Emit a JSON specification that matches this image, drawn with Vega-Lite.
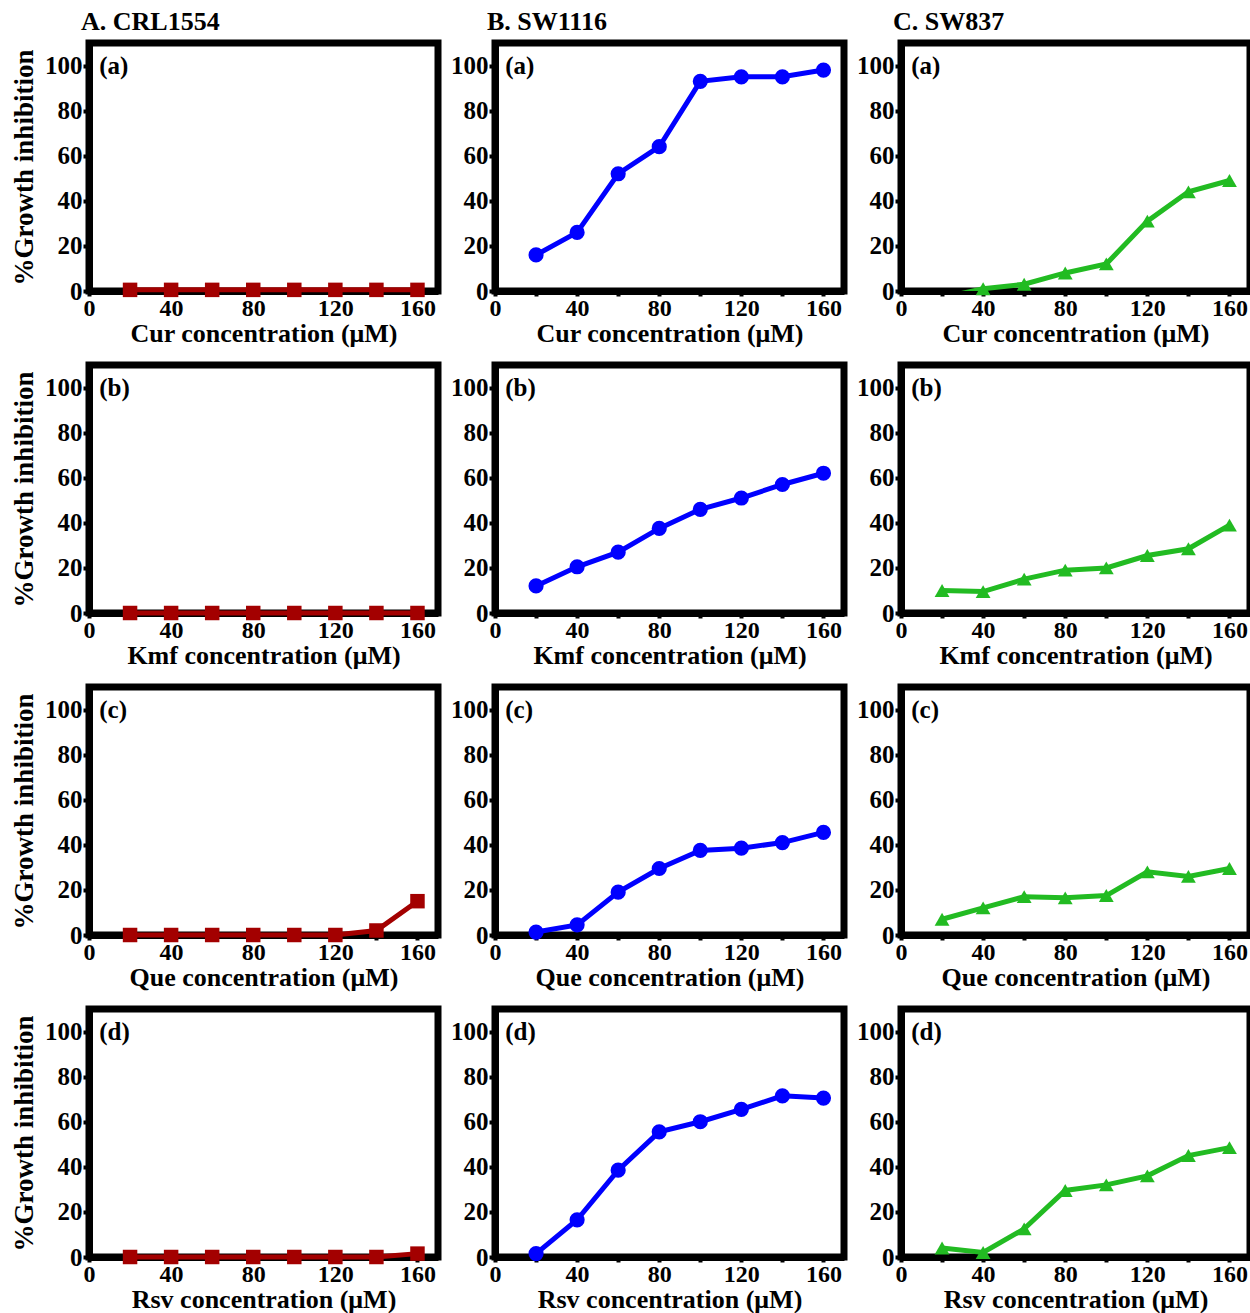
{
  "$schema": "https://vega.github.io/schema/vega-lite/v6.json",
  "background": "white",
  "padding": {"left": 6, "top": 5, "right": 2, "bottom": 0},
  "config": {
    "font": "Liberation Serif",
    "view": {"stroke": "black", "strokeWidth": 7},
    "axis": {
      "grid": false,
      "domainColor": "black",
      "domainWidth": 7,
      "tickColor": "black",
      "tickWidth": 4,
      "labelFont": "Liberation Serif",
      "labelFontWeight": "bold",
      "labelColor": "black",
      "titleFont": "Liberation Serif",
      "titleFontWeight": "bold",
      "titleColor": "black"
    },
    "axisX": {"tickSize": 5, "labelFontSize": 24, "labelPadding": 0, "titlePadding": 0, "labelFlush": false, "titleFontSize": 26},
    "axisY": {"tickSize": 6, "labelFontSize": 25, "labelPadding": 1, "titlePadding": 6, "titleFontSize": 27},
    "title": {"font": "Liberation Serif", "fontWeight": "bold", "fontSize": 26, "color": "black", "anchor": "start", "frame": "group", "offset": 8, "dx": -8},
    "text": {"font": "Liberation Serif", "fontWeight": "bold", "fontSize": 25, "color": "black"}
  },
  "datasets": {
    "growth": [
      {"cell": "CRL1554", "drug": "Cur", "conc": 20, "inhib": 0.5},
      {"cell": "CRL1554", "drug": "Cur", "conc": 40, "inhib": 0.5},
      {"cell": "CRL1554", "drug": "Cur", "conc": 60, "inhib": 0.5},
      {"cell": "CRL1554", "drug": "Cur", "conc": 80, "inhib": 0.5},
      {"cell": "CRL1554", "drug": "Cur", "conc": 100, "inhib": 0.5},
      {"cell": "CRL1554", "drug": "Cur", "conc": 120, "inhib": 0.5},
      {"cell": "CRL1554", "drug": "Cur", "conc": 140, "inhib": 0.5},
      {"cell": "CRL1554", "drug": "Cur", "conc": 160, "inhib": 0.5},
      {"cell": "CRL1554", "drug": "Kmf", "conc": 20, "inhib": 0},
      {"cell": "CRL1554", "drug": "Kmf", "conc": 40, "inhib": 0},
      {"cell": "CRL1554", "drug": "Kmf", "conc": 60, "inhib": 0},
      {"cell": "CRL1554", "drug": "Kmf", "conc": 80, "inhib": 0},
      {"cell": "CRL1554", "drug": "Kmf", "conc": 100, "inhib": 0},
      {"cell": "CRL1554", "drug": "Kmf", "conc": 120, "inhib": 0},
      {"cell": "CRL1554", "drug": "Kmf", "conc": 140, "inhib": 0},
      {"cell": "CRL1554", "drug": "Kmf", "conc": 160, "inhib": 0},
      {"cell": "CRL1554", "drug": "Que", "conc": 20, "inhib": 0},
      {"cell": "CRL1554", "drug": "Que", "conc": 40, "inhib": 0},
      {"cell": "CRL1554", "drug": "Que", "conc": 60, "inhib": 0},
      {"cell": "CRL1554", "drug": "Que", "conc": 80, "inhib": 0},
      {"cell": "CRL1554", "drug": "Que", "conc": 100, "inhib": 0},
      {"cell": "CRL1554", "drug": "Que", "conc": 120, "inhib": 0},
      {"cell": "CRL1554", "drug": "Que", "conc": 140, "inhib": 2},
      {"cell": "CRL1554", "drug": "Que", "conc": 160, "inhib": 15},
      {"cell": "CRL1554", "drug": "Rsv", "conc": 20, "inhib": 0},
      {"cell": "CRL1554", "drug": "Rsv", "conc": 40, "inhib": 0},
      {"cell": "CRL1554", "drug": "Rsv", "conc": 60, "inhib": 0},
      {"cell": "CRL1554", "drug": "Rsv", "conc": 80, "inhib": 0},
      {"cell": "CRL1554", "drug": "Rsv", "conc": 100, "inhib": 0},
      {"cell": "CRL1554", "drug": "Rsv", "conc": 120, "inhib": 0},
      {"cell": "CRL1554", "drug": "Rsv", "conc": 140, "inhib": 0},
      {"cell": "CRL1554", "drug": "Rsv", "conc": 160, "inhib": 1.5},
      {"cell": "SW1116", "drug": "Cur", "conc": 20, "inhib": 16},
      {"cell": "SW1116", "drug": "Cur", "conc": 40, "inhib": 26},
      {"cell": "SW1116", "drug": "Cur", "conc": 60, "inhib": 52},
      {"cell": "SW1116", "drug": "Cur", "conc": 80, "inhib": 64},
      {"cell": "SW1116", "drug": "Cur", "conc": 100, "inhib": 93},
      {"cell": "SW1116", "drug": "Cur", "conc": 120, "inhib": 95},
      {"cell": "SW1116", "drug": "Cur", "conc": 140, "inhib": 95},
      {"cell": "SW1116", "drug": "Cur", "conc": 160, "inhib": 98},
      {"cell": "SW1116", "drug": "Kmf", "conc": 20, "inhib": 12},
      {"cell": "SW1116", "drug": "Kmf", "conc": 40, "inhib": 20.5},
      {"cell": "SW1116", "drug": "Kmf", "conc": 60, "inhib": 27},
      {"cell": "SW1116", "drug": "Kmf", "conc": 80, "inhib": 37.5},
      {"cell": "SW1116", "drug": "Kmf", "conc": 100, "inhib": 46},
      {"cell": "SW1116", "drug": "Kmf", "conc": 120, "inhib": 51},
      {"cell": "SW1116", "drug": "Kmf", "conc": 140, "inhib": 57},
      {"cell": "SW1116", "drug": "Kmf", "conc": 160, "inhib": 62},
      {"cell": "SW1116", "drug": "Que", "conc": 20, "inhib": 1.3},
      {"cell": "SW1116", "drug": "Que", "conc": 40, "inhib": 4.5},
      {"cell": "SW1116", "drug": "Que", "conc": 60, "inhib": 19},
      {"cell": "SW1116", "drug": "Que", "conc": 80, "inhib": 29.5},
      {"cell": "SW1116", "drug": "Que", "conc": 100, "inhib": 37.5},
      {"cell": "SW1116", "drug": "Que", "conc": 120, "inhib": 38.5},
      {"cell": "SW1116", "drug": "Que", "conc": 140, "inhib": 41},
      {"cell": "SW1116", "drug": "Que", "conc": 160, "inhib": 45.5},
      {"cell": "SW1116", "drug": "Rsv", "conc": 20, "inhib": 1.5},
      {"cell": "SW1116", "drug": "Rsv", "conc": 40, "inhib": 16.5},
      {"cell": "SW1116", "drug": "Rsv", "conc": 60, "inhib": 38.5},
      {"cell": "SW1116", "drug": "Rsv", "conc": 80, "inhib": 55.5},
      {"cell": "SW1116", "drug": "Rsv", "conc": 100, "inhib": 60},
      {"cell": "SW1116", "drug": "Rsv", "conc": 120, "inhib": 65.5},
      {"cell": "SW1116", "drug": "Rsv", "conc": 140, "inhib": 71.5},
      {"cell": "SW1116", "drug": "Rsv", "conc": 160, "inhib": 70.5},
      {"cell": "SW837", "drug": "Cur", "conc": 20, "inhib": -3},
      {"cell": "SW837", "drug": "Cur", "conc": 40, "inhib": 1},
      {"cell": "SW837", "drug": "Cur", "conc": 60, "inhib": 3},
      {"cell": "SW837", "drug": "Cur", "conc": 80, "inhib": 8},
      {"cell": "SW837", "drug": "Cur", "conc": 100, "inhib": 12},
      {"cell": "SW837", "drug": "Cur", "conc": 120, "inhib": 31},
      {"cell": "SW837", "drug": "Cur", "conc": 140, "inhib": 44},
      {"cell": "SW837", "drug": "Cur", "conc": 160, "inhib": 49},
      {"cell": "SW837", "drug": "Kmf", "conc": 20, "inhib": 10},
      {"cell": "SW837", "drug": "Kmf", "conc": 40, "inhib": 9.5},
      {"cell": "SW837", "drug": "Kmf", "conc": 60, "inhib": 15},
      {"cell": "SW837", "drug": "Kmf", "conc": 80, "inhib": 19},
      {"cell": "SW837", "drug": "Kmf", "conc": 100, "inhib": 20},
      {"cell": "SW837", "drug": "Kmf", "conc": 120, "inhib": 25.5},
      {"cell": "SW837", "drug": "Kmf", "conc": 140, "inhib": 28.5},
      {"cell": "SW837", "drug": "Kmf", "conc": 160, "inhib": 39},
      {"cell": "SW837", "drug": "Que", "conc": 20, "inhib": 7},
      {"cell": "SW837", "drug": "Que", "conc": 40, "inhib": 12},
      {"cell": "SW837", "drug": "Que", "conc": 60, "inhib": 17},
      {"cell": "SW837", "drug": "Que", "conc": 80, "inhib": 16.5},
      {"cell": "SW837", "drug": "Que", "conc": 100, "inhib": 17.5},
      {"cell": "SW837", "drug": "Que", "conc": 120, "inhib": 28},
      {"cell": "SW837", "drug": "Que", "conc": 140, "inhib": 26},
      {"cell": "SW837", "drug": "Que", "conc": 160, "inhib": 29.5},
      {"cell": "SW837", "drug": "Rsv", "conc": 20, "inhib": 4},
      {"cell": "SW837", "drug": "Rsv", "conc": 40, "inhib": 2},
      {"cell": "SW837", "drug": "Rsv", "conc": 60, "inhib": 12.5},
      {"cell": "SW837", "drug": "Rsv", "conc": 80, "inhib": 29.5},
      {"cell": "SW837", "drug": "Rsv", "conc": 100, "inhib": 32},
      {"cell": "SW837", "drug": "Rsv", "conc": 120, "inhib": 36},
      {"cell": "SW837", "drug": "Rsv", "conc": 140, "inhib": 45},
      {"cell": "SW837", "drug": "Rsv", "conc": 160, "inhib": 48.5}
    ]
  },
  "bounds": "flush",
  "columns": 3,
  "spacing": {"row": 74, "column": 57},
  "concat": [
    {
      "width": 349, "height": 248,
      "title": "A. CRL1554",
      "layer": [
        {
          "data": {"name": "growth"},
          "transform": [{"filter": "datum.cell == 'CRL1554' && datum.drug == 'Cur'"}],
          "encoding": {
            "x": {"field": "conc", "type": "quantitative", "scale": {"domain": [0, 170], "nice": false}, "axis": {"title": "Cur concentration (μM)", "values": [0, 20, 40, 60, 80, 100, 120, 140, 160], "labelExpr": "datum.value % 40 == 0 ? datum.label : ''"}},
            "y": {"field": "inhib", "type": "quantitative", "scale": {"domain": [0, 110], "nice": false}, "axis": {"title": "%Growth inhibition", "values": [0, 20, 40, 60, 80, 100]}}
          },
          "layer": [
            {"mark": {"type": "line", "color": "#a30000", "strokeWidth": 5}},
            {"transform": [{"filter": "datum.inhib >= 0"}], "mark": {"type": "point", "shape": "square", "filled": true, "opacity": 1, "size": 210, "color": "#a30000"}}
          ]
        },
        {
          "data": {"values": [{"tag": "(a)"}]},
          "mark": {"type": "text", "align": "left", "baseline": "middle"},
          "encoding": {"x": {"datum": 5, "type": "quantitative"}, "y": {"datum": 100, "type": "quantitative"}, "text": {"field": "tag"}}
        }
      ]
    },
    {
      "width": 349, "height": 248,
      "title": "B. SW1116",
      "layer": [
        {
          "data": {"name": "growth"},
          "transform": [{"filter": "datum.cell == 'SW1116' && datum.drug == 'Cur'"}],
          "encoding": {
            "x": {"field": "conc", "type": "quantitative", "scale": {"domain": [0, 170], "nice": false}, "axis": {"title": "Cur concentration (μM)", "values": [0, 20, 40, 60, 80, 100, 120, 140, 160], "labelExpr": "datum.value % 40 == 0 ? datum.label : ''"}},
            "y": {"field": "inhib", "type": "quantitative", "scale": {"domain": [0, 110], "nice": false}, "axis": {"title": null, "values": [0, 20, 40, 60, 80, 100]}}
          },
          "layer": [
            {"mark": {"type": "line", "color": "#0000ff", "strokeWidth": 5}},
            {"transform": [{"filter": "datum.inhib >= 0"}], "mark": {"type": "point", "shape": "circle", "filled": true, "opacity": 1, "size": 230, "color": "#0000ff"}}
          ]
        },
        {
          "data": {"values": [{"tag": "(a)"}]},
          "mark": {"type": "text", "align": "left", "baseline": "middle"},
          "encoding": {"x": {"datum": 5, "type": "quantitative"}, "y": {"datum": 100, "type": "quantitative"}, "text": {"field": "tag"}}
        }
      ]
    },
    {
      "width": 349, "height": 248,
      "title": "C. SW837",
      "layer": [
        {
          "data": {"name": "growth"},
          "transform": [{"filter": "datum.cell == 'SW837' && datum.drug == 'Cur'"}],
          "encoding": {
            "x": {"field": "conc", "type": "quantitative", "scale": {"domain": [0, 170], "nice": false}, "axis": {"title": "Cur concentration (μM)", "values": [0, 20, 40, 60, 80, 100, 120, 140, 160], "labelExpr": "datum.value % 40 == 0 ? datum.label : ''"}},
            "y": {"field": "inhib", "type": "quantitative", "scale": {"domain": [0, 110], "nice": false}, "axis": {"title": null, "values": [0, 20, 40, 60, 80, 100]}}
          },
          "layer": [
            {"mark": {"type": "line", "color": "#22bb22", "strokeWidth": 5, "clip": true}},
            {"transform": [{"filter": "datum.inhib >= 0"}], "mark": {"type": "point", "shape": "triangle-up", "filled": true, "opacity": 1, "size": 220, "color": "#22bb22"}}
          ]
        },
        {
          "data": {"values": [{"tag": "(a)"}]},
          "mark": {"type": "text", "align": "left", "baseline": "middle"},
          "encoding": {"x": {"datum": 5, "type": "quantitative"}, "y": {"datum": 100, "type": "quantitative"}, "text": {"field": "tag"}}
        }
      ]
    },
    {
      "width": 349, "height": 248,
      "layer": [
        {
          "data": {"name": "growth"},
          "transform": [{"filter": "datum.cell == 'CRL1554' && datum.drug == 'Kmf'"}],
          "encoding": {
            "x": {"field": "conc", "type": "quantitative", "scale": {"domain": [0, 170], "nice": false}, "axis": {"title": "Kmf concentration (μM)", "values": [0, 20, 40, 60, 80, 100, 120, 140, 160], "labelExpr": "datum.value % 40 == 0 ? datum.label : ''"}},
            "y": {"field": "inhib", "type": "quantitative", "scale": {"domain": [0, 110], "nice": false}, "axis": {"title": "%Growth inhibition", "values": [0, 20, 40, 60, 80, 100]}}
          },
          "layer": [
            {"mark": {"type": "line", "color": "#a30000", "strokeWidth": 5}},
            {"transform": [{"filter": "datum.inhib >= 0"}], "mark": {"type": "point", "shape": "square", "filled": true, "opacity": 1, "size": 210, "color": "#a30000"}}
          ]
        },
        {
          "data": {"values": [{"tag": "(b)"}]},
          "mark": {"type": "text", "align": "left", "baseline": "middle"},
          "encoding": {"x": {"datum": 5, "type": "quantitative"}, "y": {"datum": 100, "type": "quantitative"}, "text": {"field": "tag"}}
        }
      ]
    },
    {
      "width": 349, "height": 248,
      "layer": [
        {
          "data": {"name": "growth"},
          "transform": [{"filter": "datum.cell == 'SW1116' && datum.drug == 'Kmf'"}],
          "encoding": {
            "x": {"field": "conc", "type": "quantitative", "scale": {"domain": [0, 170], "nice": false}, "axis": {"title": "Kmf concentration (μM)", "values": [0, 20, 40, 60, 80, 100, 120, 140, 160], "labelExpr": "datum.value % 40 == 0 ? datum.label : ''"}},
            "y": {"field": "inhib", "type": "quantitative", "scale": {"domain": [0, 110], "nice": false}, "axis": {"title": null, "values": [0, 20, 40, 60, 80, 100]}}
          },
          "layer": [
            {"mark": {"type": "line", "color": "#0000ff", "strokeWidth": 5}},
            {"transform": [{"filter": "datum.inhib >= 0"}], "mark": {"type": "point", "shape": "circle", "filled": true, "opacity": 1, "size": 230, "color": "#0000ff"}}
          ]
        },
        {
          "data": {"values": [{"tag": "(b)"}]},
          "mark": {"type": "text", "align": "left", "baseline": "middle"},
          "encoding": {"x": {"datum": 5, "type": "quantitative"}, "y": {"datum": 100, "type": "quantitative"}, "text": {"field": "tag"}}
        }
      ]
    },
    {
      "width": 349, "height": 248,
      "layer": [
        {
          "data": {"name": "growth"},
          "transform": [{"filter": "datum.cell == 'SW837' && datum.drug == 'Kmf'"}],
          "encoding": {
            "x": {"field": "conc", "type": "quantitative", "scale": {"domain": [0, 170], "nice": false}, "axis": {"title": "Kmf concentration (μM)", "values": [0, 20, 40, 60, 80, 100, 120, 140, 160], "labelExpr": "datum.value % 40 == 0 ? datum.label : ''"}},
            "y": {"field": "inhib", "type": "quantitative", "scale": {"domain": [0, 110], "nice": false}, "axis": {"title": null, "values": [0, 20, 40, 60, 80, 100]}}
          },
          "layer": [
            {"mark": {"type": "line", "color": "#22bb22", "strokeWidth": 5}},
            {"transform": [{"filter": "datum.inhib >= 0"}], "mark": {"type": "point", "shape": "triangle-up", "filled": true, "opacity": 1, "size": 220, "color": "#22bb22"}}
          ]
        },
        {
          "data": {"values": [{"tag": "(b)"}]},
          "mark": {"type": "text", "align": "left", "baseline": "middle"},
          "encoding": {"x": {"datum": 5, "type": "quantitative"}, "y": {"datum": 100, "type": "quantitative"}, "text": {"field": "tag"}}
        }
      ]
    },
    {
      "width": 349, "height": 248,
      "layer": [
        {
          "data": {"name": "growth"},
          "transform": [{"filter": "datum.cell == 'CRL1554' && datum.drug == 'Que'"}],
          "encoding": {
            "x": {"field": "conc", "type": "quantitative", "scale": {"domain": [0, 170], "nice": false}, "axis": {"title": "Que concentration (μM)", "values": [0, 20, 40, 60, 80, 100, 120, 140, 160], "labelExpr": "datum.value % 40 == 0 ? datum.label : ''"}},
            "y": {"field": "inhib", "type": "quantitative", "scale": {"domain": [0, 110], "nice": false}, "axis": {"title": "%Growth inhibition", "values": [0, 20, 40, 60, 80, 100]}}
          },
          "layer": [
            {"mark": {"type": "line", "color": "#a30000", "strokeWidth": 5}},
            {"transform": [{"filter": "datum.inhib >= 0"}], "mark": {"type": "point", "shape": "square", "filled": true, "opacity": 1, "size": 210, "color": "#a30000"}}
          ]
        },
        {
          "data": {"values": [{"tag": "(c)"}]},
          "mark": {"type": "text", "align": "left", "baseline": "middle"},
          "encoding": {"x": {"datum": 5, "type": "quantitative"}, "y": {"datum": 100, "type": "quantitative"}, "text": {"field": "tag"}}
        }
      ]
    },
    {
      "width": 349, "height": 248,
      "layer": [
        {
          "data": {"name": "growth"},
          "transform": [{"filter": "datum.cell == 'SW1116' && datum.drug == 'Que'"}],
          "encoding": {
            "x": {"field": "conc", "type": "quantitative", "scale": {"domain": [0, 170], "nice": false}, "axis": {"title": "Que concentration (μM)", "values": [0, 20, 40, 60, 80, 100, 120, 140, 160], "labelExpr": "datum.value % 40 == 0 ? datum.label : ''"}},
            "y": {"field": "inhib", "type": "quantitative", "scale": {"domain": [0, 110], "nice": false}, "axis": {"title": null, "values": [0, 20, 40, 60, 80, 100]}}
          },
          "layer": [
            {"mark": {"type": "line", "color": "#0000ff", "strokeWidth": 5}},
            {"transform": [{"filter": "datum.inhib >= 0"}], "mark": {"type": "point", "shape": "circle", "filled": true, "opacity": 1, "size": 230, "color": "#0000ff"}}
          ]
        },
        {
          "data": {"values": [{"tag": "(c)"}]},
          "mark": {"type": "text", "align": "left", "baseline": "middle"},
          "encoding": {"x": {"datum": 5, "type": "quantitative"}, "y": {"datum": 100, "type": "quantitative"}, "text": {"field": "tag"}}
        }
      ]
    },
    {
      "width": 349, "height": 248,
      "layer": [
        {
          "data": {"name": "growth"},
          "transform": [{"filter": "datum.cell == 'SW837' && datum.drug == 'Que'"}],
          "encoding": {
            "x": {"field": "conc", "type": "quantitative", "scale": {"domain": [0, 170], "nice": false}, "axis": {"title": "Que concentration (μM)", "values": [0, 20, 40, 60, 80, 100, 120, 140, 160], "labelExpr": "datum.value % 40 == 0 ? datum.label : ''"}},
            "y": {"field": "inhib", "type": "quantitative", "scale": {"domain": [0, 110], "nice": false}, "axis": {"title": null, "values": [0, 20, 40, 60, 80, 100]}}
          },
          "layer": [
            {"mark": {"type": "line", "color": "#22bb22", "strokeWidth": 5}},
            {"transform": [{"filter": "datum.inhib >= 0"}], "mark": {"type": "point", "shape": "triangle-up", "filled": true, "opacity": 1, "size": 220, "color": "#22bb22"}}
          ]
        },
        {
          "data": {"values": [{"tag": "(c)"}]},
          "mark": {"type": "text", "align": "left", "baseline": "middle"},
          "encoding": {"x": {"datum": 5, "type": "quantitative"}, "y": {"datum": 100, "type": "quantitative"}, "text": {"field": "tag"}}
        }
      ]
    },
    {
      "width": 349, "height": 248,
      "layer": [
        {
          "data": {"name": "growth"},
          "transform": [{"filter": "datum.cell == 'CRL1554' && datum.drug == 'Rsv'"}],
          "encoding": {
            "x": {"field": "conc", "type": "quantitative", "scale": {"domain": [0, 170], "nice": false}, "axis": {"title": "Rsv concentration (μM)", "values": [0, 20, 40, 60, 80, 100, 120, 140, 160], "labelExpr": "datum.value % 40 == 0 ? datum.label : ''"}},
            "y": {"field": "inhib", "type": "quantitative", "scale": {"domain": [0, 110], "nice": false}, "axis": {"title": "%Growth inhibition", "values": [0, 20, 40, 60, 80, 100]}}
          },
          "layer": [
            {"mark": {"type": "line", "color": "#a30000", "strokeWidth": 5}},
            {"transform": [{"filter": "datum.inhib >= 0"}], "mark": {"type": "point", "shape": "square", "filled": true, "opacity": 1, "size": 210, "color": "#a30000"}}
          ]
        },
        {
          "data": {"values": [{"tag": "(d)"}]},
          "mark": {"type": "text", "align": "left", "baseline": "middle"},
          "encoding": {"x": {"datum": 5, "type": "quantitative"}, "y": {"datum": 100, "type": "quantitative"}, "text": {"field": "tag"}}
        }
      ]
    },
    {
      "width": 349, "height": 248,
      "layer": [
        {
          "data": {"name": "growth"},
          "transform": [{"filter": "datum.cell == 'SW1116' && datum.drug == 'Rsv'"}],
          "encoding": {
            "x": {"field": "conc", "type": "quantitative", "scale": {"domain": [0, 170], "nice": false}, "axis": {"title": "Rsv concentration (μM)", "values": [0, 20, 40, 60, 80, 100, 120, 140, 160], "labelExpr": "datum.value % 40 == 0 ? datum.label : ''"}},
            "y": {"field": "inhib", "type": "quantitative", "scale": {"domain": [0, 110], "nice": false}, "axis": {"title": null, "values": [0, 20, 40, 60, 80, 100]}}
          },
          "layer": [
            {"mark": {"type": "line", "color": "#0000ff", "strokeWidth": 5}},
            {"transform": [{"filter": "datum.inhib >= 0"}], "mark": {"type": "point", "shape": "circle", "filled": true, "opacity": 1, "size": 230, "color": "#0000ff"}}
          ]
        },
        {
          "data": {"values": [{"tag": "(d)"}]},
          "mark": {"type": "text", "align": "left", "baseline": "middle"},
          "encoding": {"x": {"datum": 5, "type": "quantitative"}, "y": {"datum": 100, "type": "quantitative"}, "text": {"field": "tag"}}
        }
      ]
    },
    {
      "width": 349, "height": 248,
      "layer": [
        {
          "data": {"name": "growth"},
          "transform": [{"filter": "datum.cell == 'SW837' && datum.drug == 'Rsv'"}],
          "encoding": {
            "x": {"field": "conc", "type": "quantitative", "scale": {"domain": [0, 170], "nice": false}, "axis": {"title": "Rsv concentration (μM)", "values": [0, 20, 40, 60, 80, 100, 120, 140, 160], "labelExpr": "datum.value % 40 == 0 ? datum.label : ''"}},
            "y": {"field": "inhib", "type": "quantitative", "scale": {"domain": [0, 110], "nice": false}, "axis": {"title": null, "values": [0, 20, 40, 60, 80, 100]}}
          },
          "layer": [
            {"mark": {"type": "line", "color": "#22bb22", "strokeWidth": 5}},
            {"transform": [{"filter": "datum.inhib >= 0"}], "mark": {"type": "point", "shape": "triangle-up", "filled": true, "opacity": 1, "size": 220, "color": "#22bb22"}}
          ]
        },
        {
          "data": {"values": [{"tag": "(d)"}]},
          "mark": {"type": "text", "align": "left", "baseline": "middle"},
          "encoding": {"x": {"datum": 5, "type": "quantitative"}, "y": {"datum": 100, "type": "quantitative"}, "text": {"field": "tag"}}
        }
      ]
    }
  ]
}
